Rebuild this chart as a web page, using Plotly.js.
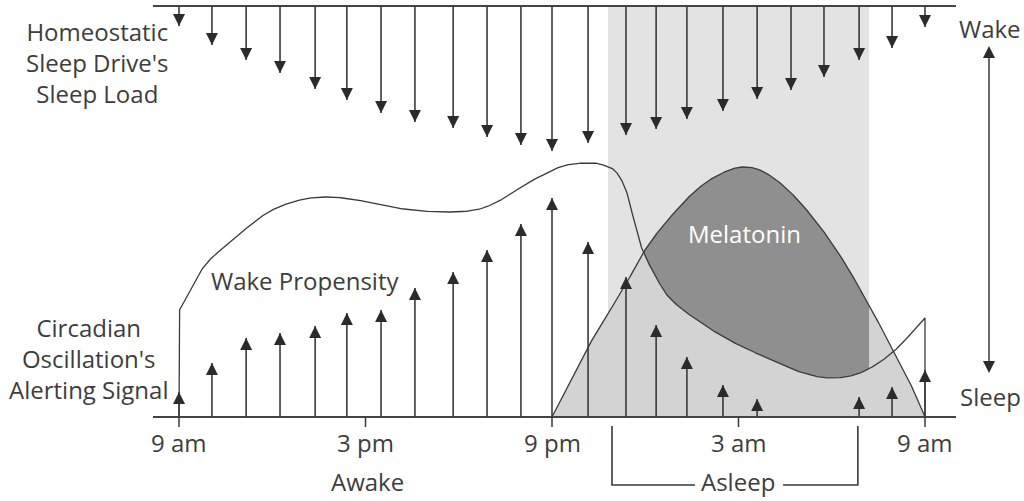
<!DOCTYPE html>
<html><head><meta charset="utf-8">
<script src="https://cdn.plot.ly/plotly-3.0.1.min.js"></script>
<style>html,body{margin:0;padding:0;background:#fff}#chart{width:1024px;height:501px}</style>
</head><body><div id="chart"></div>
<script>
// ---- DATA (hours after 9 am; levels in drawing units) ----
const arrowHours = [0, 1.06, 2.16, 3.25, 4.38, 5.40, 6.50, 7.59, 8.82, 9.91, 11.0, 12.0, 13.16, 14.38, 15.35, 16.34, 17.5, 18.6, 19.69, 20.75, 21.88, 22.94, 24.0];
const sleepLoad = [20, 39, 54, 67, 83, 94, 107, 116, 122, 131, 139, 145, 137, 129, 123, 113, 105, 93, 84, 71, 54, 42, 21];
const alertingSignal = [25, 54, 79, 84, 91, 104, 107, 129, 145, 167, 193, 219, 175, 140, 92, 60, 32, 18, null, null, 20, 30, 47];

const wakeHours = [0, 0.77, 1.74, 2.83, 3.89, 4.76, 5.73, 6.79, 7.85, 8.72, 9.68, 10.23, 11.39, 12.48, 13.32, 13.64, 14.09, 14.41, 14.61, 14.83, 15.06, 15.47, 15.70, 16.76, 17.82, 18.92, 19.98, 20.94, 21.91, 22.97, 24.0];
const wakePropensity = [106, 149, 177, 204, 217, 220, 217, 210, 206, 205, 208, 215, 237, 252, 254, 252, 244, 224, 200, 174, 157, 133, 122, 95, 75, 59, 45, 39, 44, 65, 99];

const melHours = [12.0, 13.16, 14.38, 14.93, 15.70, 16.76, 17.63, 18.14, 18.69, 19.56, 20.53, 21.36, 22.23, 22.97, 23.61, 24.0];
const melatonin = [0, 70, 133, 164, 196, 230, 246, 250, 247, 228, 194, 157, 110, 67, 28, 0];

const tickHours = [0, 6, 12, 18, 24];
const tickLabels = ['9 am', '3 pm', '9 pm', '3 am', '9 am'];
const sleepWindow = [13.8, 22.2];      // shaded sleep period
const asleepBracket = [13.93, 21.84];  // "Asleep" bracket ends

// ---- LAYOUT CONSTANTS ----
const PPH = 746 / 24, X0 = 179, BASE = 417;
const hx = px => (px - X0) / PPH;      // pixel -> hours (layout helper)
const vy = py => BASE - py;            // pixel -> level
const TOP = vy(6);
const lineExtent = [hx(153), hx(956)];
const INK = '#3a3a3a';
const FONT = 'Open Sans, Lato, DejaVu Sans, sans-serif';
const FS = 24;

// monotone cubic smoothing used only for drawing the curves
function smooth(xs, ys) {
  const n = xs.length, d = [], m = new Array(n);
  for (let i = 0; i < n - 1; i++) d.push((ys[i + 1] - ys[i]) / (xs[i + 1] - xs[i]));
  m[0] = d[0]; m[n - 1] = d[n - 2];
  for (let i = 1; i < n - 1; i++) m[i] = d[i - 1] * d[i] <= 0 ? 0 : (d[i - 1] + d[i]) / 2;
  for (let i = 0; i < n - 1; i++) {
    if (d[i] === 0) { m[i] = 0; m[i + 1] = 0; continue; }
    const a = m[i] / d[i], b = m[i + 1] / d[i], s = a * a + b * b;
    if (s > 9) { const t = 3 / Math.sqrt(s); m[i] = t * a * d[i]; m[i + 1] = t * b * d[i]; }
  }
  return x => {
    let i = 0;
    while (i < n - 2 && x > xs[i + 1]) i++;
    const h = xs[i + 1] - xs[i], t = Math.min(1, Math.max(0, (x - xs[i]) / h));
    const t2 = t * t, t3 = t2 * t;
    return (2 * t3 - 3 * t2 + 1) * ys[i] + (t3 - 2 * t2 + t) * h * m[i] + (-2 * t3 + 3 * t2) * ys[i + 1] + (t3 - t2) * h * m[i + 1];
  };
}
function sample(f, a, b, step) {
  const xs = [], ys = [];
  for (let x = a; x < b; x += step) { xs.push(x); ys.push(f(x)); }
  xs.push(b); ys.push(f(b));
  return [xs, ys];
}
const wakeF = smooth(wakeHours, wakePropensity);
const melF = smooth(melHours, melatonin);
const [wx, wy] = sample(wakeF, wakeHours[0], wakeHours[wakeHours.length - 1], 0.02);
const [mx, my] = sample(melF, melHours[0], melHours[melHours.length - 1], 0.02);

// dark melatonin region: above wake propensity, inside the sleep period
const up = [], lo = [], ux = [];
for (let x = melHours[0]; x <= sleepWindow[1] + 1e-9; x += 0.01) {
  const a = melF(x), b = wakeF(x);
  if (a >= b) { ux.push(x); up.push(a); lo.push(b); }
}
const darkX = ux.concat(ux.slice().reverse());
const darkY = up.concat(lo.slice().reverse());

// arrows
const topShaftX = [], topShaftY = [], botShaftX = [], botShaftY = [], topTipY = [], botTipX = [], botTipY = [];
arrowHours.forEach((h, i) => {
  topShaftX.push(h, h, null); topShaftY.push(TOP, TOP - sleepLoad[i], null);
  topTipY.push(TOP - sleepLoad[i]);
  if (alertingSignal[i] != null) {
    botShaftX.push(h, h, null); botShaftY.push(0, alertingSignal[i], null);
    botTipX.push(h); botTipY.push(alertingSignal[i]);
  }
});
const tickX = [], tickY = [];
tickHours.forEach(h => { tickX.push(h, h, null); tickY.push(0, -10, null); });

const line = (x, y, w, c) => ({ type: 'scatter', mode: 'lines', x, y, line: { color: c || INK, width: w || 1.4 }, hoverinfo: 'skip' });

const traces = [
  { type: 'scatter', mode: 'lines', x: mx, y: my, fill: 'tozeroy', fillcolor: '#d3d3d3', line: { width: 0 }, hoverinfo: 'skip' },
  { type: 'scatter', mode: 'lines', x: darkX, y: darkY, fill: 'toself', fillcolor: '#8f8f8f', line: { width: 0 }, hoverinfo: 'skip' },
  line(mx, my, 1.3),
  line([wakeHours[0]].concat(wx, [wakeHours[wakeHours.length - 1]]), [0].concat(wy, [0]), 1.3),
  line(lineExtent, [0, 0], 2, '#444'),
  line(lineExtent, [TOP, TOP], 2, '#444'),
  line(tickX, tickY, 1.5),
  line(topShaftX, topShaftY, 1.6),
  line(botShaftX, botShaftY, 1.6),
  { type: 'scatter', mode: 'markers', x: arrowHours, y: topTipY, marker: { symbol: 'arrow-down', size: 12, color: '#2b2b2b', line: { width: 0 } }, hoverinfo: 'skip' },
  { type: 'scatter', mode: 'markers', x: botTipX, y: botTipY, marker: { symbol: 'arrow-up', size: 12, color: '#2b2b2b', line: { width: 0 } }, hoverinfo: 'skip' },
  // Wake / Sleep scale arrow
  line([hx(989), hx(989)], [vy(50), vy(369)], 1.5),
  { type: 'scatter', mode: 'markers', x: [hx(989), hx(989)], y: [vy(46), vy(373)], marker: { symbol: ['arrow-up', 'arrow-down'], size: 12, color: '#2b2b2b', line: { width: 0 } }, hoverinfo: 'skip', cliponaxis: false },
  // Asleep bracket
  line([asleepBracket[0], asleepBracket[0], hx(695), null, hx(783), asleepBracket[1], asleepBracket[1]],
       [vy(426), vy(485), vy(485), null, vy(485), vy(485), vy(426)], 1.6)
];

const ann = (text, px, py, extra) => Object.assign({
  text, x: hx(px), y: vy(py), xref: 'x', yref: 'y', showarrow: false,
  xanchor: 'center', yanchor: 'middle', align: 'center',
  font: { family: FONT, size: FS, color: '#3d3d3d' }
}, extra || {});

const annotations = [
  ann('Homeostatic<br>Sleep Drive\'s<br>Sleep Load', 97, 62),
  ann('Circadian<br>Oscillation\'s<br>Alerting Signal', 88, 358),
  ann('Wake Propensity', 305, 280),
  ann('Melatonin', 744, 233, { font: { family: FONT, size: FS, color: '#ffffff' } }),
  ann('Wake', 990, 28),
  ann('Sleep', 990, 396),
  ann('Awake', 367, 481),
  ann('Asleep', 738, 481)
];
tickHours.forEach((h, i) => annotations.push(Object.assign(ann(tickLabels[i], 0, 442), { x: h })));

const layout = {
  width: 1024, height: 501,
  margin: { l: 0, r: 0, t: 0, b: 0 },
  paper_bgcolor: '#ffffff', plot_bgcolor: '#ffffff',
  showlegend: false,
  xaxis: { range: [hx(0), hx(1024)], visible: false, fixedrange: true },
  yaxis: { range: [vy(501), vy(0)], visible: false, fixedrange: true },
  shapes: [{ type: 'rect', layer: 'below', xref: 'x', yref: 'y', x0: sleepWindow[0], x1: sleepWindow[1], y0: 0, y1: vy(7), fillcolor: '#e3e3e3', line: { width: 0 } }],
  annotations
};

Plotly.newPlot('chart', traces, layout, { staticPlot: true, displayModeBar: false });
</script>
</body></html>
